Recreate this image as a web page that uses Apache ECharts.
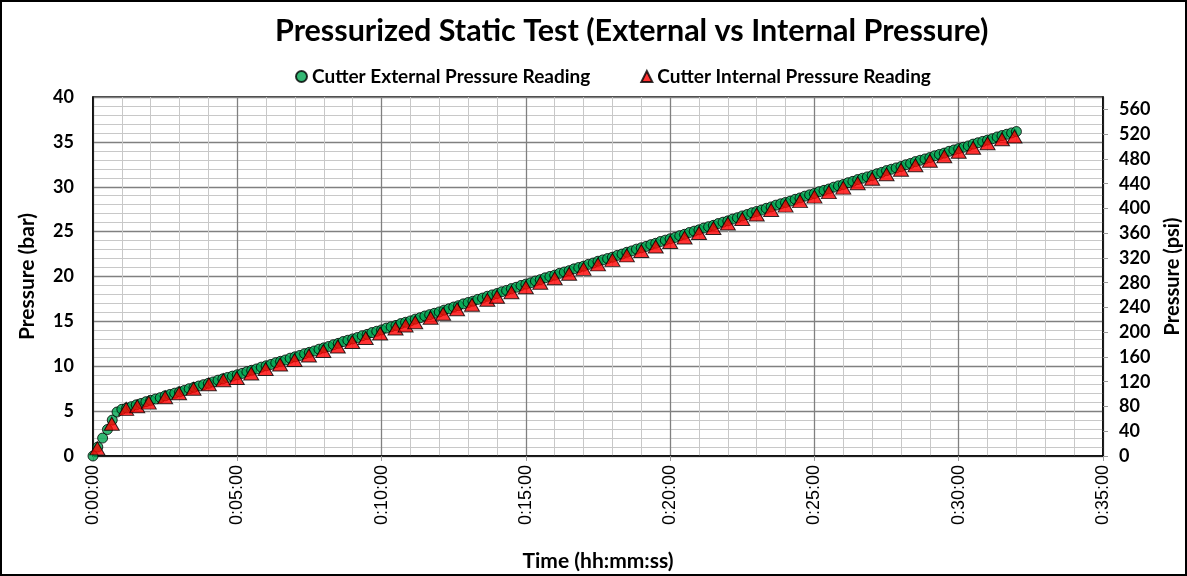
<!DOCTYPE html>
<html>
<head>
<meta charset="utf-8">
<title>Pressurized Static Test</title>
<script src="https://cdn.jsdelivr.net/npm/echarts@6/dist/echarts.min.js"></script>
<style>
    html, body { margin: 0; padding: 0; background: #fff; }
    #chart { width: 1187px; height: 576px; }
</style>
</head>
<body>
<div id="chart"></div>
<script type="text/javascript">
    // external reading, one sample every 10 s starting at 0:00:00 (bar)
    var extStepSec = 10;
    var extBar = [
        0.00, 1.00, 2.00, 2.95, 4.00, 4.90,
        5.20, 5.35, 5.50, 5.70, 5.85, 6.05,
        6.20, 6.35, 6.50, 6.70, 6.85, 7.00,
        7.15, 7.30, 7.50, 7.65, 7.80, 7.95,
        8.10, 8.25, 8.45, 8.60, 8.75, 8.90,
        9.05, 9.20, 9.40, 9.55, 9.70, 9.90,
        10.05, 10.20, 10.40, 10.55, 10.70, 10.90,
        11.05, 11.20, 11.40, 11.55, 11.70, 11.90,
        12.05, 12.20, 12.40, 12.55, 12.75, 12.90,
        13.05, 13.20, 13.40, 13.55, 13.75, 13.90,
        14.05, 14.25, 14.40, 14.55, 14.75, 14.90,
        15.05, 15.25, 15.40, 15.60, 15.75, 15.90,
        16.05, 16.25, 16.40, 16.60, 16.75, 16.95,
        17.10, 17.25, 17.45, 17.60, 17.80, 17.95,
        18.10, 18.30, 18.45, 18.65, 18.80, 19.00,
        19.15, 19.30, 19.50, 19.65, 19.85, 20.00,
        20.15, 20.35, 20.50, 20.65, 20.85, 21.00,
        21.15, 21.35, 21.50, 21.70, 21.85, 22.00,
        22.15, 22.35, 22.50, 22.70, 22.85, 23.05,
        23.20, 23.35, 23.55, 23.70, 23.90, 24.05,
        24.20, 24.35, 24.55, 24.70, 24.90, 25.05,
        25.20, 25.40, 25.55, 25.70, 25.90, 26.05,
        26.20, 26.40, 26.55, 26.75, 26.90, 27.10,
        27.25, 27.40, 27.60, 27.75, 27.95, 28.10,
        28.25, 28.40, 28.60, 28.75, 28.95, 29.10,
        29.25, 29.45, 29.60, 29.75, 29.95, 30.10,
        30.25, 30.45, 30.60, 30.80, 30.95, 31.10,
        31.25, 31.45, 31.60, 31.80, 31.95, 32.10,
        32.25, 32.45, 32.60, 32.80, 32.95, 33.10,
        33.25, 33.45, 33.60, 33.75, 33.95, 34.10,
        34.25, 34.40, 34.55, 34.75, 34.90, 35.05,
        35.20, 35.35, 35.55, 35.70, 35.85, 36.00,
        36.15
    ];

    // internal reading, irregular sample times (s) and values (bar)
    var intSec = [
        9, 39, 69, 92, 116, 150, 179, 209, 241, 271, 299, 329, 359, 389, 419,
        449, 479, 509, 539, 567, 597, 629, 650, 670, 702, 728, 757, 788, 820, 840,
        870, 900, 930, 960, 990, 1020, 1050, 1080, 1110, 1140, 1170, 1200, 1230, 1260,
        1290, 1320, 1350, 1380, 1410, 1440, 1470, 1500, 1530, 1560, 1590, 1620, 1650,
        1680, 1710, 1740, 1770, 1800, 1830, 1860, 1890, 1916
    ];
    var intBar = [
        0.85, 3.60, 5.25, 5.55, 5.95, 6.55, 7.00, 7.50, 8.00, 8.45, 8.70, 9.20, 9.70, 10.20, 10.70,
        11.20, 11.70, 12.20, 12.70, 13.15, 13.65, 14.20, 14.55, 14.90, 15.40, 15.85, 16.35, 16.85, 17.40, 17.75,
        18.25, 18.80, 19.30, 19.80, 20.30, 20.85, 21.35, 21.85, 22.35, 22.85, 23.35, 23.85, 24.35, 24.85,
        25.40, 25.90, 26.40, 26.90, 27.40, 27.90, 28.40, 28.90, 29.40, 29.90, 30.40, 30.90, 31.40,
        31.90, 32.40, 32.90, 33.40, 33.90, 34.35, 34.85, 35.30, 35.60
    ];

    var seriesNames = ['Cutter External Pressure Reading', 'Cutter Internal Pressure Reading'];
    var barToPsi = 14.5038;

    function hms(sec) {
        var h = Math.floor(sec / 3600);
        var m = Math.floor((sec % 3600) / 60);
        var s = Math.round(sec % 60);
        return h + ':' + (m < 10 ? '0' : '') + m + ':' + (s < 10 ? '0' : '') + s;
    }

    var extData = [];
    for (var i = 0; i < extBar.length; i++) {
        extData.push([i * extStepSec, extBar[i]]);
    }
    var intData = [];
    for (var j = 0; j < intSec.length; j++) {
        intData.push([intSec[j], intBar[j]]);
    }

    var boldFont = 'Lato';
    var myChart = echarts.init(document.getElementById('chart'));
    var option = {
        animation: false,
        backgroundColor: '#fff',
        title: {
            text: 'Pressurized Static Test (External vs Internal Pressure)',
            left: 270,
            top: 11,
            textStyle: { fontFamily: boldFont, fontWeight: 'bold', fontSize: 30.5, color: '#000' }
        },
        legend: {
            top: 62,
            left: 290,
            itemGap: 50,
            itemWidth: 11,
            itemHeight: 11,
            textStyle: { fontFamily: boldFont, fontWeight: 'bold', fontSize: 19, color: '#000' },
            data: [
                { name: seriesNames[0], icon: 'circle' },
                { name: seriesNames[1], icon: 'triangle' }
            ]
        },
        grid: {
            left: 93,
            right: 84,
            top: 97,
            bottom: 120,
            outerBoundsMode: 'none',
            show: true,
            borderColor: '#000',
            borderWidth: 1.5
        },
        xAxis: {
            type: 'value',
            min: 0,
            max: 2100,
            interval: 300,
            name: 'Time (hh:mm:ss)',
            nameLocation: 'middle',
            nameGap: 95,
            nameTextStyle: { fontFamily: boldFont, fontWeight: 'bold', fontSize: 21, color: '#000' },
            axisLine: { show: true, lineStyle: { color: '#000', width: 1.5 } },
            axisTick: { show: true, length: 5, lineStyle: { color: '#999' } },
            axisLabel: {
                rotate: 90,
                margin: 9,
                fontFamily: 'Liberation Sans',
                fontSize: 18,
                color: '#000',
                formatter: function (v) { return hms(v); }
            },
            splitLine: { show: true, lineStyle: { color: '#808080', width: 1.3 } },
            minorTick: { show: false, splitNumber: 5 },
            minorSplitLine: { show: true, lineStyle: { color: '#c8c8c8', width: 1 } }
        },
        yAxis: [
            {
                type: 'value',
                min: 0,
                max: 40,
                interval: 5,
                name: 'Pressure (bar)',
                nameLocation: 'middle',
                nameGap: 55,
                nameTextStyle: { fontFamily: boldFont, fontWeight: 'bold', fontSize: 21, color: '#000' },
                axisLine: { show: true, lineStyle: { color: '#000', width: 1.5 } },
                axisTick: { show: false },
                axisLabel: { margin: 19, fontFamily: boldFont, fontWeight: 'bold', fontSize: 18, color: '#000' },
                splitLine: { show: true, lineStyle: { color: '#808080', width: 1.3 } },
                minorTick: { show: false, splitNumber: 5 },
                minorSplitLine: { show: true, lineStyle: { color: '#c8c8c8', width: 1 } }
            },
            {
                type: 'value',
                min: 0,
                max: 40 * barToPsi,
                interval: 40,
                alignTicks: false,
                name: 'Pressure (psi)',
                nameLocation: 'middle',
                nameGap: 60,
                nameTextStyle: { fontFamily: boldFont, fontWeight: 'bold', fontSize: 20, color: '#000' },
                axisLine: { show: true, lineStyle: { color: '#000', width: 1.5 } },
                axisTick: { show: true, inside: false, length: 5, lineStyle: { color: '#999' } },
                axisLabel: { showMaxLabel: false, margin: 16, fontFamily: boldFont, fontWeight: 'bold', fontSize: 18, color: '#000' },
                splitLine: { show: false }
            }
        ],
        series: [
            {
                name: seriesNames[0],
                type: 'scatter',
                symbol: 'circle',
                symbolSize: 10,
                itemStyle: { color: '#00a550', borderColor: '#000', borderWidth: 1 },
                data: extData
            },
            {
                name: seriesNames[1],
                type: 'scatter',
                symbol: 'triangle',
                symbolSize: [15, 13],
                itemStyle: { color: '#ff0000', borderColor: '#000', borderWidth: 1 },
                data: intData
            }
        ],
        graphic: [{
            type: 'rect',
            shape: { x: 1, y: 1, width: 1185, height: 574 },
            style: { fill: 'none', stroke: '#000', lineWidth: 2 },
            silent: true
        }]
    };
    myChart.setOption(option, true);
</script>
</body>
</html>
